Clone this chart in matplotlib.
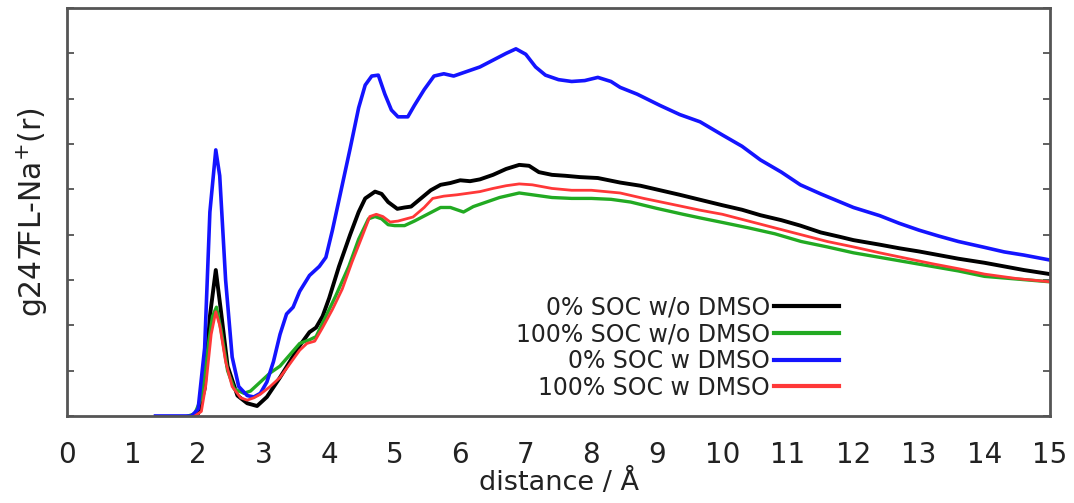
import matplotlib
matplotlib.use("Agg")
import matplotlib.pyplot as plt

# data -----------------------------------------------------------------------

labels = ["0% SOC w/o DMSO", "100% SOC w/o DMSO", "0% SOC w DMSO", "100% SOC w DMSO"]
colors = ["#000000", "#22aa22", "#1414ff", "#ff3838"]
widths = [2.8, 2.4, 2.6, 2.0]

black_x = [1.9, 2.0, 2.1, 2.18, 2.27, 2.35, 2.45, 2.6, 2.75, 2.9, 3.05, 3.25, 3.4, 3.55, 3.7, 3.8, 3.9,
           4.0, 4.15, 4.32, 4.45, 4.55, 4.7, 4.8, 4.9, 5.04, 5.15, 5.25, 5.4, 5.55, 5.7, 5.85, 6.0,
           6.15, 6.3, 6.5, 6.7, 6.9, 7.05, 7.2, 7.4, 7.6, 7.83, 8.1, 8.44, 8.75, 9.05, 9.35, 9.66,
           10.0, 10.3, 10.58, 10.9, 11.19, 11.5, 11.8, 12.0, 12.4, 12.7, 13.0, 13.3, 13.6, 14.0,
           14.3, 14.6, 15.0]
black_y = [0.0, 0.05, 0.6, 2.2, 3.22, 2.3, 1.1, 0.45, 0.28, 0.22, 0.42, 0.85, 1.2, 1.55, 1.85, 1.95, 2.2,
           2.6, 3.3, 4.0, 4.5, 4.8, 4.95, 4.9, 4.72, 4.57, 4.6, 4.62, 4.8, 4.98, 5.1, 5.14, 5.2,
           5.18, 5.22, 5.32, 5.45, 5.54, 5.52, 5.38, 5.32, 5.3, 5.27, 5.25, 5.15, 5.08, 4.98, 4.88, 4.77,
           4.65, 4.55, 4.43, 4.32, 4.2, 4.05, 3.95, 3.88, 3.78, 3.7, 3.63, 3.55, 3.47, 3.38,
           3.3, 3.22, 3.13]

green_x = [1.85, 1.95, 2.05, 2.15, 2.22, 2.28, 2.35, 2.45, 2.55, 2.7, 2.8, 2.95, 3.1, 3.25, 3.4, 3.55,
           3.7, 3.8, 3.95, 4.1, 4.3, 4.45, 4.6, 4.7, 4.8, 4.9, 5.0, 5.15, 5.3, 5.5, 5.7, 5.85, 6.05,
           6.2, 6.4, 6.6, 6.9, 7.1, 7.4, 7.7, 8.0, 8.3, 8.6, 9.0, 9.4, 9.66, 10.0, 10.4, 10.8, 11.2,
           11.6, 12.0, 12.4, 12.8, 13.2, 13.6, 14.0, 14.5, 15.0]
green_y = [0.0, 0.05, 0.4, 1.5, 2.2, 2.4, 1.9, 1.0, 0.6, 0.5, 0.55, 0.75, 0.95, 1.1, 1.35, 1.6,
           1.68, 1.75, 2.2, 2.65, 3.3, 3.9, 4.35, 4.4, 4.35, 4.22, 4.2, 4.2, 4.3, 4.45, 4.6, 4.6, 4.5,
           4.62, 4.72, 4.82, 4.92, 4.88, 4.82, 4.8, 4.8, 4.78, 4.72, 4.58, 4.45, 4.37, 4.27, 4.15, 4.02, 3.85,
           3.73, 3.6, 3.5, 3.4, 3.3, 3.2, 3.08, 3.02, 2.96]

blue_x = [1.35, 1.9, 2.0, 2.1, 2.18, 2.27, 2.33, 2.42, 2.52, 2.62, 2.75, 2.85, 2.95, 3.05, 3.15, 3.25,
          3.35, 3.45, 3.55, 3.7, 3.85, 3.95, 4.05, 4.2, 4.32, 4.45, 4.55, 4.65, 4.75, 4.85, 4.95, 5.05,
          5.2, 5.3, 5.45, 5.6, 5.75, 5.9, 6.1, 6.3, 6.5, 6.7, 6.85, 7.0, 7.15, 7.3, 7.5, 7.7, 7.9, 8.1,
          8.3, 8.44, 8.7, 9.05, 9.35, 9.66, 10.0, 10.3, 10.58, 10.9, 11.19, 11.5, 11.8, 12.0, 12.4,
          12.7, 13.0, 13.3, 13.6, 14.0, 14.3, 14.6, 15.0]
blue_y = [0.0, 0.0, 0.15, 1.5, 4.5, 5.87, 5.3, 3.0, 1.3, 0.65, 0.45, 0.42, 0.5, 0.75, 1.2, 1.8,
          2.25, 2.4, 2.75, 3.1, 3.3, 3.5, 4.1, 5.1, 5.9, 6.8, 7.3, 7.5, 7.52, 7.1, 6.75, 6.6,
          6.6, 6.85, 7.2, 7.5, 7.55, 7.5, 7.6, 7.7, 7.85, 8.0, 8.1, 7.98, 7.7, 7.52, 7.42, 7.38, 7.4, 7.47,
          7.38, 7.25, 7.1, 6.85, 6.65, 6.49, 6.2, 5.95, 5.65, 5.38, 5.1, 4.9, 4.72, 4.6, 4.42,
          4.25, 4.1, 3.97, 3.85, 3.72, 3.62, 3.55, 3.44]

red_x = [1.95, 2.05, 2.12, 2.2, 2.27, 2.33, 2.42, 2.52, 2.65, 2.75, 2.85, 2.95, 3.1, 3.25, 3.4, 3.55,
         3.66, 3.78, 3.9, 4.05, 4.2, 4.35, 4.5, 4.62, 4.72, 4.82, 4.93, 5.05, 5.28, 5.45, 5.58, 5.75,
         5.95, 6.15, 6.3, 6.5, 6.7, 6.9, 7.1, 7.4, 7.7, 8.0, 8.44, 8.8, 9.2, 9.66, 10.0, 10.4, 10.8,
         11.2, 11.6, 12.0, 12.4, 12.8, 13.2, 13.6, 14.0, 14.5, 15.0]
red_y = [0.0, 0.1, 0.7, 1.8, 2.3, 2.0, 1.2, 0.65, 0.4, 0.35, 0.4, 0.48, 0.65, 0.85, 1.15, 1.45,
         1.6, 1.65, 1.95, 2.35, 2.8, 3.4, 3.95, 4.4, 4.45, 4.4, 4.28, 4.3, 4.39, 4.6, 4.8, 4.85,
         4.88, 4.92, 4.95, 5.02, 5.08, 5.12, 5.1, 5.02, 4.98, 4.98, 4.92, 4.8, 4.68, 4.54, 4.45, 4.3, 4.15,
         4.0, 3.85, 3.73, 3.6, 3.48, 3.36, 3.25, 3.13, 3.03, 2.96]

xs = [black_x, green_x, blue_x, red_x]
ys = [black_y, green_y, blue_y, red_y]

# plot -----------------------------------------------------------------------

fig = plt.figure(figsize=(10.74, 5.03), dpi=100)
ax = fig.add_axes([0.0624, 0.173, 0.9153, 0.811])

for x, y, c, w, lab in zip(xs, ys, colors, widths, labels):
    ax.plot(x, y, color=c, lw=w, label=lab, solid_joinstyle="round")

ax.set_xlim(0, 15)
ax.set_ylim(0, 9)

# labels on every integer, tick marks only on even ones
ax.set_xticks(range(16))
ax.set_xticks(range(0, 16, 2), minor=True)
ax.tick_params(axis="x", which="major", length=0, pad=18, labelsize=20, labelcolor="#222222")
ax.tick_params(axis="x", which="minor", direction="in", length=5, width=1.2,
               top=True, bottom=True, color="#444444")
ax.set_yticks(range(10))
ax.tick_params(axis="y", direction="in", length=5, width=1.2, left=True, right=True,
               labelleft=False, color="#444444")

for s in ax.spines.values():
    s.set_linewidth(2)
    s.set_color("#555555")

ax.set_xlabel("distance / Å", fontsize=19.5, color="#222222", labelpad=0)
ax.set_ylabel("g247FL-Na$^{+}$(r)", fontsize=21.5, color="#222222", labelpad=12)

leg = ax.legend(loc="upper right", bbox_to_anchor=(0.797, 0.325), frameon=False,
                markerfirst=False, fontsize=17, handlelength=2.75, handletextpad=0.15,
                labelspacing=0.12, borderpad=0)
for t in leg.get_texts():
    t.set_color("#222222")
for h in leg.get_lines():
    h.set_linewidth(3)

fig.savefig("out.png", dpi=100)
